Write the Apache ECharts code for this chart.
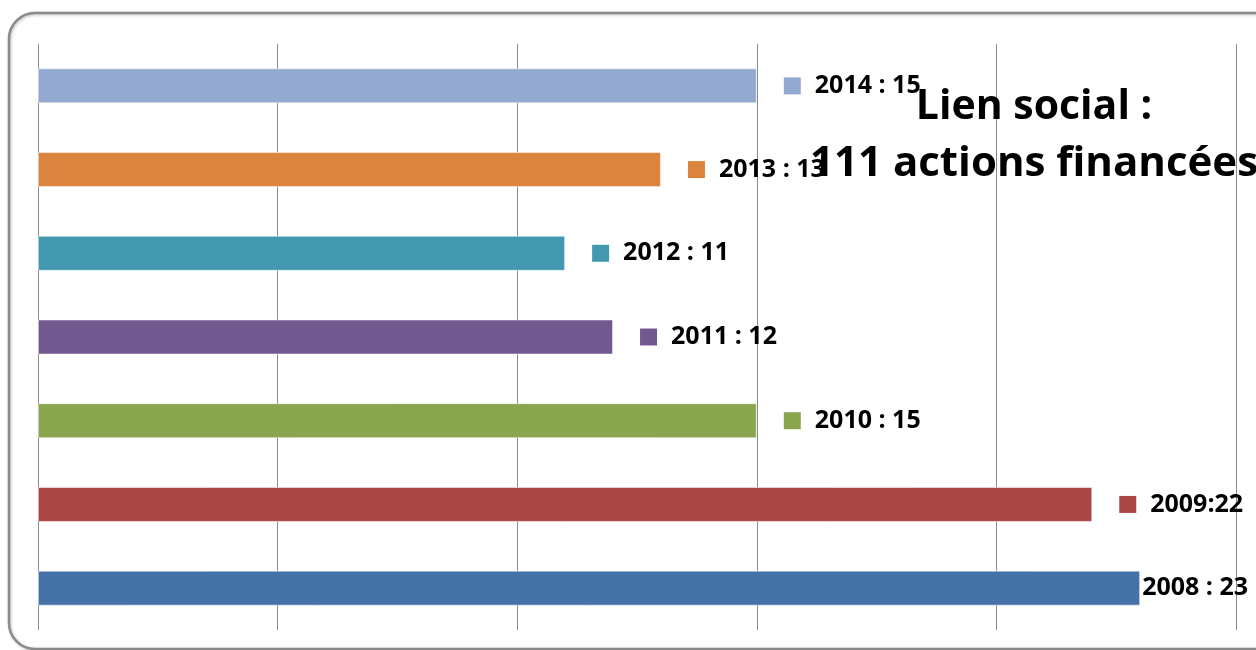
<!DOCTYPE html>
<html>
<head>
<meta charset="utf-8">
<script src="https://cdn.jsdelivr.net/npm/echarts@6/dist/echarts.min.js"></script>
<style>html,body{margin:0;padding:0;background:#fff;}#c{width:1256px;height:650px;}</style>
</head>
<body>
<div id="c"></div>
<script>
var years = ['2008', '2009', '2010', '2011', '2012', '2013', '2014'];
var values = [23, 22, 15, 12, 11, 13, 15];
var labelTexts = ['2008 : 23', '2009:22', '2010 : 15', '2011 : 12', '2012 : 11', '2013 : 13', '2014 : 15'];
var colors = ['#4472A6', '#AA4643', '#89A54E', '#71588F', '#4198AF', '#DB843D', '#93A9CF'];
var showMarker = [false, true, true, true, true, true, true];
var xTicks = [0, 5, 10, 15, 20, 25];
var titleLines = ['Lien social :', '111 actions financées'];

var chart = echarts.init(document.getElementById('c'));
var labelFont = { fontFamily: 'Open Sans', fontWeight: 'bold', fontSize: 25, color: '#000' };
var data = values.map(function (v, i) {
  var rich = {
    sq: { width: 17, height: 17, backgroundColor: colors[i] },
    t: Object.assign({ padding: [0, 0, 0, 14] }, labelFont),
    t0: Object.assign({}, labelFont)
  };
  return {
    value: v,
    itemStyle: { color: colors[i], borderColor: 'rgba(255,255,255,0.5)', borderWidth: 1 },
    label: {
      show: true,
      position: 'right',
      distance: showMarker[i] ? 27 : 2,
      formatter: showMarker[i] ? '{sq|}{t|' + labelTexts[i] + '}' : '{t0|' + labelTexts[i] + '}',
      rich: rich
    }
  };
});

chart.setOption({
  animation: false,
  backgroundColor: '#fff',
  grid: { left: 38, right: 20, top: 44, bottom: 20, containLabel: false },
  xAxis: {
    type: 'value', min: xTicks[0], max: xTicks[xTicks.length - 1], interval: xTicks[1] - xTicks[0],
    axisLine: { show: false }, axisTick: { show: false }, axisLabel: { show: false },
    splitLine: { show: true, lineStyle: { color: '#8c8c8c', width: 1 } }
  },
  yAxis: {
    type: 'category', data: years,
    axisLine: { show: false }, axisTick: { show: false }, axisLabel: { show: false },
    splitLine: { show: false }
  },
  series: [{
    type: 'bar', data: data, barWidth: 35, z: 2
  }],
  graphic: [
    {
      type: 'rect', z: -1, silent: true,
      shape: { x: 9, y: 13, width: 1280, height: 636, r: 26 },
      style: { fill: 'none', stroke: '#8a8a8a', lineWidth: 2.5,
        shadowBlur: 3, shadowColor: 'rgba(0,0,0,0.25)', shadowOffsetX: 1, shadowOffsetY: 1 }
    },
    {
      type: 'text', z: 100, x: 1034, y: 107,
      style: { text: titleLines[0], align: 'center', verticalAlign: 'middle',
        font: 'bold 41px "Open Sans"', fill: '#000' }
    },
    {
      type: 'text', z: 100, x: 1034, y: 164,
      style: { text: titleLines[1], align: 'center', verticalAlign: 'middle',
        font: 'bold 42px "Open Sans"', fill: '#000' }
    }
  ]
});
</script>
</body>
</html>
